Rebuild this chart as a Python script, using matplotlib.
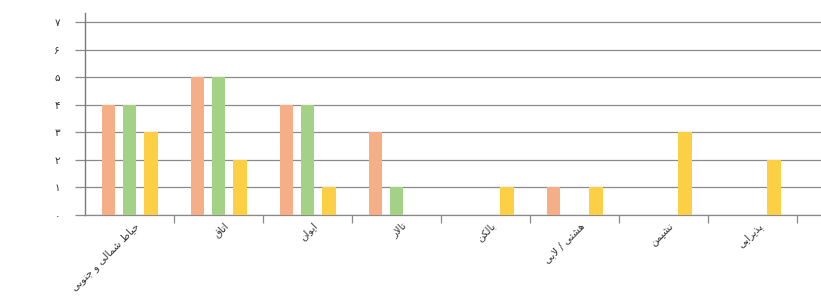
import numpy as np
import matplotlib
matplotlib.use("Agg")
import matplotlib.pyplot as plt

# ---------------------------------------------------------------------------
# DATA
# ---------------------------------------------------------------------------
categories = ["حیاط شمالی و جنوبی", "اتاق", "ایوان", "تالار",
              "بالکن", "هشتی / لابی", "نشیمن", "پذیرایی"]
series_orange = [4, 5, 4, 3, 0, 1, 0, 0]
series_green = [4, 5, 4, 1, 0, 0, 0, 0]
series_yellow = [3, 2, 1, 0, 1, 1, 3, 2]
y_ticks = [0, 1, 2, 3, 4, 5, 6, 7]
y_tick_labels = ["۰", "۱", "۲", "۳", "۴", "۵", "۶", "۷"]

# ---------------------------------------------------------------------------
# minimal Persian shaping (matplotlib has no complex text layout)
# forms: isolated, final, initial, medial
# ---------------------------------------------------------------------------
FORMS = {
    "ا": (0xFE8D, 0xFE8E, None, None),
    "آ": (0xFE81, 0xFE82, None, None),
    "ب": (0xFE8F, 0xFE90, 0xFE91, 0xFE92),
    "پ": (0xFB56, 0xFB57, 0xFB58, 0xFB59),
    "ت": (0xFE95, 0xFE96, 0xFE97, 0xFE98),
    "ج": (0xFE9D, 0xFE9E, 0xFE9F, 0xFEA0),
    "ح": (0xFEA1, 0xFEA2, 0xFEA3, 0xFEA4),
    "د": (0xFEA9, 0xFEAA, None, None),
    "ذ": (0xFEAB, 0xFEAC, None, None),
    "ر": (0xFEAD, 0xFEAE, None, None),
    "ز": (0xFEAF, 0xFEB0, None, None),
    "س": (0xFEB1, 0xFEB2, 0xFEB3, 0xFEB4),
    "ش": (0xFEB5, 0xFEB6, 0xFEB7, 0xFEB8),
    "ط": (0xFEC1, 0xFEC2, 0xFEC3, 0xFEC4),
    "ق": (0xFED5, 0xFED6, 0xFED7, 0xFED8),
    "ک": (0xFB8E, 0xFB8F, 0xFB90, 0xFB91),
    "ل": (0xFEDD, 0xFEDE, 0xFEDF, 0xFEE0),
    "م": (0xFEE1, 0xFEE2, 0xFEE3, 0xFEE4),
    "ن": (0xFEE5, 0xFEE6, 0xFEE7, 0xFEE8),
    "و": (0xFEED, 0xFEEE, None, None),
    "ه": (0xFEE9, 0xFEEA, 0xFEEB, 0xFEEC),
    "ی": (0xFBFC, 0xFBFD, 0xFBFE, 0xFBFF),
}


def shape(text):
    # lam-alef ligature placeholder
    chars = []
    i = 0
    while i < len(text):
        if text[i] == "ل" and i + 1 < len(text) and text[i + 1] == "ا":
            chars.append("LA")
            i += 2
        else:
            chars.append(text[i])
            i += 1

    def joins_next(c):
        return c in FORMS and FORMS[c][2] is not None

    def joins_prev(c):
        return c in FORMS or c == "LA"

    out = []
    for k, c in enumerate(chars):
        prev_c = chars[k - 1] if k > 0 else None
        next_c = chars[k + 1] if k + 1 < len(chars) else None
        conn_prev = prev_c is not None and joins_next(prev_c) and joins_prev(c)
        if c == "LA":
            out.append(chr(0xFEFC if conn_prev else 0xFEFB))
            continue
        if c not in FORMS:
            out.append(c)
            continue
        conn_next = (next_c is not None and joins_next(c)
                     and joins_prev(next_c))
        iso, fin, ini, med = FORMS[c]
        if conn_prev and conn_next:
            out.append(chr(med))
        elif conn_prev:
            out.append(chr(fin))
        elif conn_next:
            out.append(chr(ini))
        else:
            out.append(chr(iso))
    return "".join(reversed(out))


# ---------------------------------------------------------------------------
# PLOT
# ---------------------------------------------------------------------------
plt.rcParams["font.family"] = ["DejaVu Sans"]

fig = plt.figure(figsize=(8.21, 2.96), dpi=100, facecolor="white")
ax = fig.add_axes([0.1035, 0.2736, 0.8965, 0.682])

x = np.arange(len(categories))
w = 0.155
ax.bar(x - 0.235, series_orange, w, color="#F6AE86", zorder=3)
ax.bar(x, series_green, w, color="#A3D287", zorder=3)
ax.bar(x + 0.24, series_yellow, w, color="#FDCF45", zorder=3)

ax.set_ylim(0, 7.33)
ax.set_xlim(-0.5, 7.77)

ax.set_yticks(y_ticks)
ax.set_yticklabels(y_tick_labels, fontsize=7.5, color="#333333")
ax.yaxis.grid(True, color="#8a8a8a", lw=0.9, zorder=0)
ax.tick_params(axis="y", length=7, width=0.9, color="#8a8a8a", pad=11)

# category boundary ticks
ax.set_xticks(np.arange(0.5, len(categories) + 0.5))
ax.set_xticklabels([])
ax.tick_params(axis="x", length=6, width=0.9, color="#8a8a8a")

for xi, name in zip(x, categories):
    ax.text(xi + 0.05, -0.2, shape(name), rotation=45, ha="right",
            va="top", rotation_mode="anchor", fontsize=7.3,
            color="#333333")

for side in ("top", "right"):
    ax.spines[side].set_visible(False)
ax.spines["left"].set_color("#7a7a7a")
ax.spines["left"].set_linewidth(1.0)
ax.spines["bottom"].set_color("#8a8a8a")
ax.spines["bottom"].set_linewidth(0.9)

fig.savefig("out.png", dpi=100, facecolor="white")
